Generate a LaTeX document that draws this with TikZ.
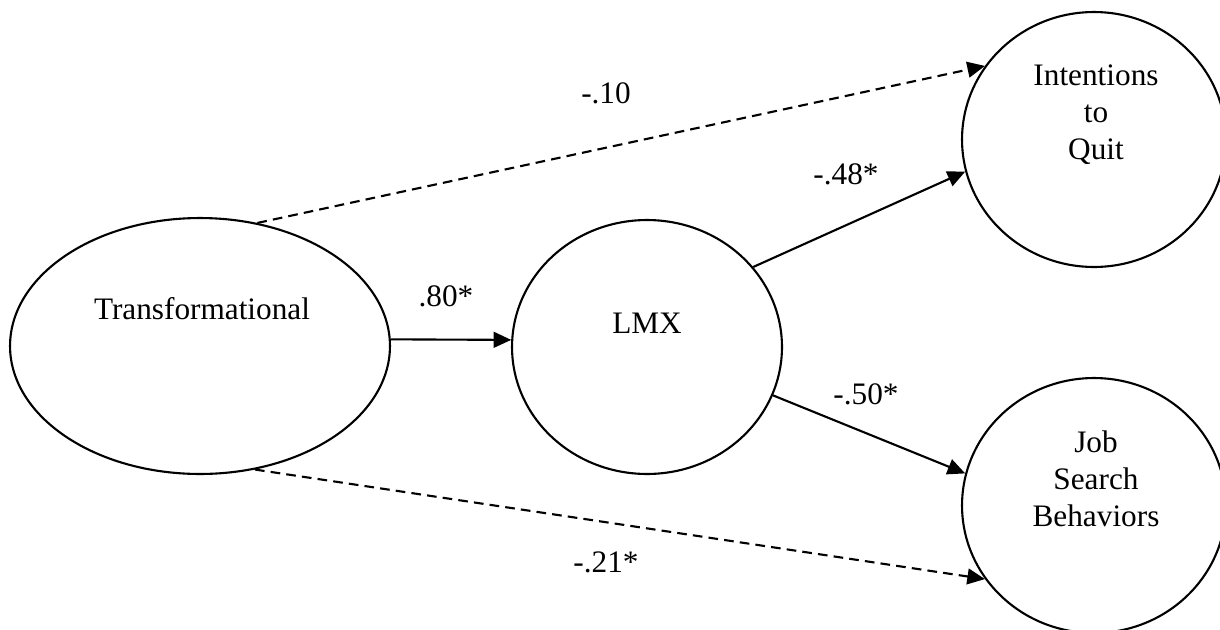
\documentclass[tikz,border=0pt]{standalone}
\usepackage{fontspec}
\setmainfont{Liberation Serif}
\usepackage{tikz}
\usetikzlibrary{arrows.meta,shapes.geometric}

\begin{document}
\begin{tikzpicture}[x=0.02cm,y=-0.02cm,font=\fontsize{17.8}{20.8}\selectfont,
  latent/.style={draw,ellipse,line width=1.2pt,inner sep=0pt},
  txt/.style={anchor=base,inner sep=0pt,align=center},
  medpath/.style={line width=1.2pt,-{Triangle[length=10pt,width=9pt]}},
  dirpath/.style={medpath,dash pattern=on 5.5pt off 3.5pt}]
  \useasboundingbox (0,0) rectangle (1220,629);
  \node[latent,minimum width=7.6cm,minimum height=5.12cm] (trans) at (200,346) {};
  \node[latent,minimum width=5.4cm,minimum height=5.08cm] (lmx) at (647,347) {};
  \node[latent,minimum width=5.28cm,minimum height=5.1cm] (quit) at (1094,139.5) {};
  \node[latent,minimum width=5.28cm,minimum height=5.1cm] (job) at (1094,505.5) {};
  \node[txt] (transtxt) at (202,319) {Transformational};
  \node[txt] (lmxtxt) at (647,333) {LMX};
  \node[txt] (quittxt) at (1096,159) {Intentions\\to\\Quit};
  \node[txt] (jobtxt) at (1096,526) {Job\\Search\\Behaviors};
  \draw[medpath] (trans.2) -- (lmx.177);
  \draw[medpath] (lmx.37) -- (quit.194);
  \draw[medpath] (lmx.-21) -- (job.166);
  \draw[dirpath] (trans.65) -- (quit.146);
  \draw[dirpath] (trans.-66) -- (job.214);
  \node[txt] (c10) at (606,103) {-.10};
  \node[txt] (c48) at (846,184) {-.48*};
  \node[txt] (c80) at (446,306) {.80*};
  \node[txt] (c50) at (866,404) {-.50*};
  \node[txt] (c21) at (606,572) {-.21*};
\end{tikzpicture}
\end{document}
